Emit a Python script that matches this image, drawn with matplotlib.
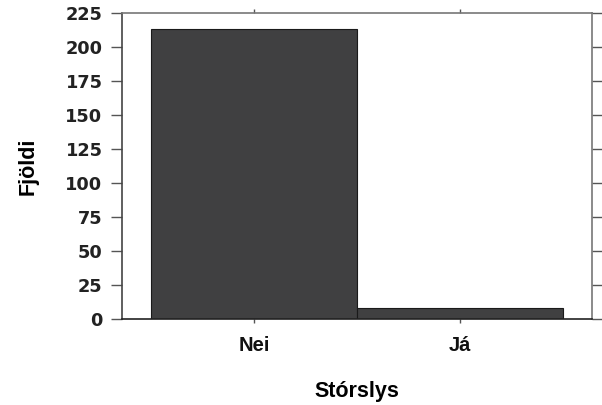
import matplotlib
matplotlib.use("Agg")
import matplotlib.pyplot as plt

categories = ["Nei", "Já"]
counts = [213, 8]
yticks = [0, 25, 50, 75, 100, 125, 150, 175, 200, 225]

plt.rcParams['font.family'] = ['DejaVu Sans']

fig = plt.figure(figsize=(6.02, 4.05), dpi=100)
ax = fig.add_axes([122/602, 1-319/405, (592-122)/602, (319-13)/405])

x = list(range(len(categories)))
ax.bar(x, counts, width=1.0, color='#404041', edgecolor='#1a1a1a', linewidth=0.8, zorder=2)

ax.set_xlim(-0.64, 1.64)
ax.set_ylim(0, 225)
ax.set_yticks(yticks)
ax.set_yticklabels([str(v) for v in yticks], fontsize=12.8, fontweight='bold', color='#222222')
ax.set_xticks(x)
ax.set_xticklabels(categories, fontsize=14.5, fontweight='bold', color='#111111',
                   family='Liberation Sans')

for s in ax.spines.values():
    s.set_color('#777777')
    s.set_linewidth(1.2)
ax.spines['left'].set_color('#444444')
ax.spines['bottom'].set_color('#222222')

ax.tick_params(axis='y', which='both', left=True, right=True, direction='out', length=8, width=1.0,
               color='#555555', pad=6)
ax.tick_params(axis='x', which='both', bottom=True, top=True, direction='out', length=3, width=1.0,
               color='#555555', pad=9)

ax.set_ylabel('Fjöldi', fontsize=15.5, fontweight='bold', labelpad=19, family='Liberation Sans')
ax.set_xlabel('Stórslys', fontsize=15.5, fontweight='bold', labelpad=19, family='Liberation Sans')

fig.savefig('out.png', dpi=100)
